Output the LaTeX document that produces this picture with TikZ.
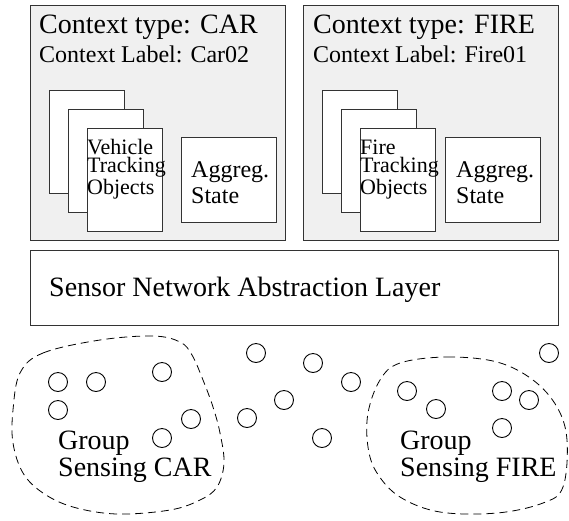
\documentclass[tikz,border=0pt]{standalone}
\usepackage{fontspec}
\setmainfont{Liberation Serif}
\begin{document}
\begin{tikzpicture}[x=1pt,y=-1pt,
  ctxbox/.style={draw=black!80, fill=black!6, line width=1pt, anchor=north west, inner sep=0},
  pagebox/.style={draw=black!80, fill=white, line width=1pt, anchor=north west, inner sep=0, minimum width=75pt, minimum height=103pt},
  aggbox/.style={draw=black!80, fill=white, line width=1pt, anchor=north west, inner sep=0, minimum width=95pt, minimum height=85pt},
  layerbox/.style={draw=black!80, fill=white, line width=1pt, anchor=north west, inner sep=0},
  sensornode/.style={circle, draw=black, line width=0.9pt, minimum size=19pt, inner sep=0},
  groupline/.style={draw=black, line width=0.8pt, dash pattern=on 8pt off 5pt},
  bigtxt/.style={font=\fontsize{28}{27}\selectfont, inner sep=0, anchor=base west, align=left},
  midtxt/.style={font=\fontsize{24}{26}\selectfont, inner sep=0, anchor=base west, align=left},
  smalltxt/.style={font=\fontsize{22}{18}\selectfont, inner sep=0, anchor=base west, align=left}
]
\useasboundingbox (0,0) rectangle (569,520);

% context boxes
\node[ctxbox, minimum width=255pt, minimum height=235pt] (carctx) at (30,5) {};
\node[ctxbox, minimum width=255pt, minimum height=235pt] (firectx) at (303,5) {};

\node[bigtxt] (cartype) at (39,33) {Context type: CAR};
\node[midtxt] (carlabel) at (39,62) {Context Label: Car02};
\node[bigtxt] (firetype) at (313,33) {Context type: FIRE};
\node[midtxt] (firelabel) at (313,62) {Context Label: Fire01};

% car pages
\node[pagebox] (carp1) at (49,90) {};
\node[pagebox] (carp2) at (68,109) {};
\node[pagebox] (carp3) at (87,128) {};
\node[smalltxt] (carobj) at (87,194) {Vehicle\\Tracking\\Objects};
\node[aggbox] (caragg) at (181,137) {};
\node[midtxt] (caraggtxt) at (191,203) {Aggreg.\\State};

% fire pages
\node[pagebox] (firep1) at (322,90) {};
\node[pagebox] (firep2) at (341,109) {};
\node[pagebox] (firep3) at (360,128) {};
\node[smalltxt] (fireobj) at (360,194) {Fire\\Tracking\\Objects};
\node[aggbox] (fireagg) at (445,137) {};
\node[midtxt] (fireaggtxt) at (456,203) {Aggreg.\\State};

% abstraction layer
\node[layerbox, minimum width=528pt, minimum height=75pt] (layer) at (30,250) {};
\node[bigtxt] (layertxt) at (49,296) {Sensor Network Abstraction Layer};

% groups
\draw[groupline] plot[smooth cycle, tension=0.6] coordinates {
 (20,373) (43,353) (100,340) (153,336) (180,342) (192,355) (203,380) (213,407)
 (220,433) (224,463) (217,487) (200,500) (170,510) (117,514) (73,507) (43,493)
 (23,473) (13,443) (13,410)};
\draw[groupline] plot[smooth cycle, tension=0.6] coordinates {
 (400,363) (447,357) (497,362) (533,380) (557,407) (567,440) (563,487) (543,503)
 (497,513) (440,512) (400,497) (377,473) (368,447) (368,413) (380,380)};

\node[bigtxt] (cargroup) at (58,476) {Group\\Sensing CAR};
\node[bigtxt] (firegroup) at (400,476) {Group\\Sensing FIRE};

% sensor nodes
\foreach \n/\x/\y in {1/58/382, 2/96/382, 3/162/372, 4/58/410, 5/191/419, 6/162/438,
  7/256/353, 8/247/418, 9/284/400, 10/313/363, 11/351/382, 12/322/438,
  13/407/391, 14/436/409, 15/502/391, 16/529/400, 17/502/428, 18/549/353}
  \node[sensornode] (s\n) at (\x,\y) {};
\end{tikzpicture}
\end{document}
